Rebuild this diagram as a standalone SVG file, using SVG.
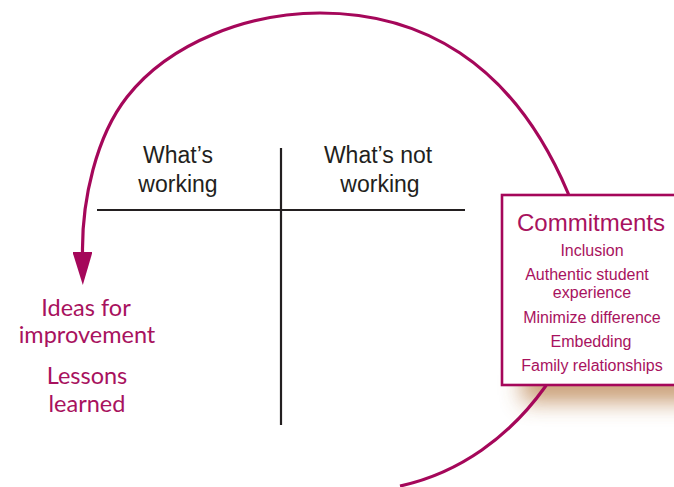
<svg xmlns="http://www.w3.org/2000/svg" width="674" height="487" viewBox="0 0 674 487">
<style>
.mag{fill:#a8125e;font-family:"Liberation Sans",Arial,sans-serif;text-anchor:middle}
.item{font-size:16px}
.hdr{fill:#231f20;font-family:"Liberation Sans",Arial,sans-serif;font-size:23px;text-anchor:middle}
.side{fill:#a8125e;font-family:Lato,"Open Sans",sans-serif;font-size:23.5px;text-anchor:middle}
.rule{stroke:#231f20;stroke-width:2.2;fill:none}
.cycle{stroke:#a5075a;stroke-width:3.2;fill:none}
</style>
<defs>
<marker id="arrow" markerUnits="userSpaceOnUse" viewBox="0 0 33 20" refX="0" refY="10" markerWidth="33" markerHeight="20" orient="auto">
<path d="M0,0 L33,10 L0,20 z" fill="#a5075a"/>
</marker>
<filter id="blur" x="-50%" y="-100%" width="200%" height="300%">
<feGaussianBlur stdDeviation="11"/>
</filter>
</defs>
<rect width="674" height="487" fill="#ffffff"/>
<g id="shadow">
<rect x="522" y="368" width="200" height="34" fill="#c49468" opacity="0.9" filter="url(#blur)"/>
</g>
<g id="connectors">
<path class="cycle" marker-end="url(#arrow)" d="M400,486 C460,473 510,436 545,387 C568.6,354.6 587.5,239 568,193 C544.6,137.8 509.8,86 460,53 C418.5,25.5 370,13 320,13 C250,13 170.4,41.7 127,97 C96,136.5 82,200 82.5,252"/>
</g>
<g id="table">
<line class="rule" x1="97" y1="210" x2="465" y2="210"/>
<line class="rule" x1="281" y1="148" x2="281" y2="425"/>
</g>
<g id="whats-working">
<text class="hdr" x="178" y="163">What’s</text>
<text class="hdr" x="178" y="192">working</text>
</g>
<g id="whats-not-working">
<text class="hdr" x="378" y="163">What’s not</text>
<text class="hdr" x="380" y="192">working</text>
</g>
<g id="commitments">
<rect x="502" y="195" width="200" height="190" fill="#ffffff" stroke="#a5075a" stroke-width="2.6"/>
<text class="mag" x="591" y="231" font-size="24">Commitments</text>
<text class="mag item" x="592" y="256">Inclusion</text>
<text class="mag item" x="587" y="280">Authentic student</text>
<text class="mag item" x="592" y="298">experience</text>
<text class="mag item" x="592" y="323">Minimize difference</text>
<text class="mag item" x="591" y="347">Embedding</text>
<text class="mag item" x="592" y="371">Family relationships</text>
</g>
<g id="ideas">
<text class="side" x="86" y="316">Ideas for</text>
<text class="side" x="87" y="343">improvement</text>
</g>
<g id="lessons">
<text class="side" x="87" y="384">Lessons</text>
<text class="side" x="87" y="412">learned</text>
</g>
</svg>
